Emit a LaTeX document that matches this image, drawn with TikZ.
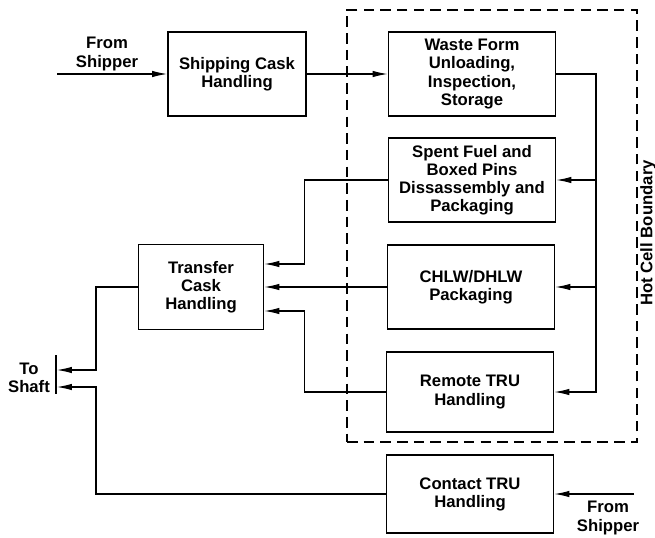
\documentclass[tikz,border=0pt]{standalone}
\usepackage{fontspec}
\setmainfont{Liberation Sans}
\usepackage{tikz}
\usetikzlibrary{arrows.meta,calc}
\tikzstyle{block}=[draw, line width=1.1pt, minimum width=3.34cm, minimum height=1.68cm, align=center, inner sep=2pt, font=\bfseries\fontsize{9.5}{10.3}\selectfont]
\tikzstyle{lbl}=[align=center, inner sep=1pt, font=\bfseries\fontsize{9.5}{10.3}\selectfont]
\tikzstyle{flow}=[line width=0.6pt, -{Latex[length=3mm,width=1.3mm]}]

\begin{document}
\begin{tikzpicture}[x=0.02cm,y=-0.02cm]
\useasboundingbox (0,0) rectangle (655,537);
% hot cell boundary
\node[draw, line width=0.8pt, dash pattern=on 6pt off 3.5pt, minimum width=5.8cm, minimum height=8.64cm] (hotcell) at (492,226) {};
\node[lbl, rotate=90] (hcb) at (648,233) {Hot Cell Boundary};

\node[block, minimum width=2.76cm] (ship) at (237,74) {Shipping Cask\\Handling};
\node[block] (waste) at (472,74) {Waste Form\\Unloading,\\Inspection,\\Storage};
\node[block] (spent) at (472,180) {Spent Fuel and\\Boxed Pins\\Dissassembly and\\Packaging};
\node[block] (chlw) at (471,287) {CHLW/DHLW\\Packaging};
\node[block, minimum height=1.6cm] (remote) at (470,392) {Remote TRU\\Handling};
\node[block, minimum height=1.56cm] (contact) at (470,494) {Contact TRU\\Handling};
\node[block, minimum width=2.5cm, minimum height=1.7cm] (transfer) at (201,287) {Transfer\\Cask\\Handling};

\node[lbl] (from1) at (107,54) {From\\Shipper};
\node[lbl] (from2) at (608,518) {From\\Shipper};
\node[lbl] (toshaft) at (29,378) {To\\Shaft};

\coordinate (in1) at (57,74);
\coordinate (in2) at (634,494);
\coordinate (bus) at (596,392);
\coordinate (tin1) at ($(transfer.east)+(0,-23)$);
\coordinate (tin3) at ($(transfer.east)+(0,24)$);
\coordinate (jog1) at ($(tin1)+(40,0)$);
\coordinate (jog3) at ($(tin3)+(40,0)$);
\coordinate (shaft1) at (57,370);
\coordinate (shaft2) at (57,387);
\coordinate (jog4) at (96,370);
\coordinate (jog5) at (96,387);
\coordinate (bartop) at (56,355);
\coordinate (barbot) at (56,394);

% inputs
\draw[flow] (in1) -- (ship);
\draw[flow] (ship) -- (waste);
\draw[flow] (in2) -- (contact);
% hot cell distribution
\draw[flow] (waste.east) -| (bus) -- (remote.east);
\draw[flow] (spent.east -| bus) -- (spent.east);
\draw[flow] (chlw.east -| bus) -- (chlw.east);
% to transfer cask
\draw[flow] (spent.west) -| (jog1) -- (tin1);
\draw[flow] (chlw.west) -- (chlw.west -| transfer.east);
\draw[flow] (remote.west) -| (jog3) -- (tin3);
% to shaft
\draw[flow] (transfer.west) -| (jog4) -- (shaft1);
\draw[flow] (contact.west) -| (jog5) -- (shaft2);
\draw[line width=1pt] (bartop) -- (barbot);
\end{tikzpicture}
\end{document}
